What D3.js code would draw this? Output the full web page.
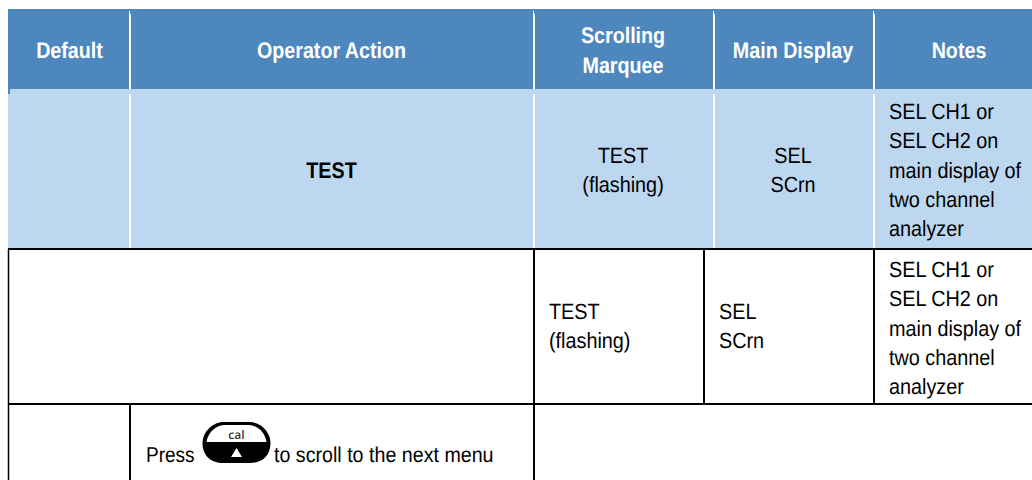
<!DOCTYPE html>
<html><head><meta charset="utf-8">
<script src="https://cdnjs.cloudflare.com/ajax/libs/d3/7.8.5/d3.min.js"></script>
<style>html,body{margin:0;padding:0;background:#fff}svg{display:block}text{font-family:"Liberation Sans",Arial,sans-serif;text-rendering:geometricPrecision}</style>
</head><body><svg id="c" width="1032" height="480"></svg>
<script>
const headers = [["Default"],["Operator Action"],["Scrolling","Marquee"],["Main Display"],["Notes"]];
const marquee = ["TEST","(flashing)"];
const mainDisplay = ["SEL","SCrn"];
const notes = ["SEL CH1 or","SEL CH2 on","main display of","two channel","analyzer"];
const actionLabel = ["TEST"];
const pressBefore = "Press";
const pressAfter = "to scroll to the next menu";
const keyLabel = "cal";

const W=1032,H=480,LH=29.3;
const colEdges=[8,130,534,714,874,1032];
const colCenters=[69.5,331.5,623,793,959];
const y={top:9,head:89,gap:94,r1:249,r2:404};
const svg=d3.select("#c");
function rect(x0,y0,x1,y1,f){svg.append("rect").attr("x",x0).attr("y",y0).attr("width",x1-x0).attr("height",y1-y0).attr("fill",f);}
function line(x0,y0,x1,y1,c,w){svg.append("line").attr("x1",x0).attr("y1",y0).attr("x2",x1).attr("y2",y1).attr("stroke",c).attr("stroke-width",w);}
function txt(lines,x,base,anchor,weight,fill,fs,sx){
  fs=fs||(weight==="bold"?22.5:22); sx=sx||(weight==="bold"?0.875:0.9);
  svg.append("g").selectAll("text").data(lines).join("text")
    .attr("transform",(d,i)=>`translate(${x},${base+i*LH}) scale(${sx},1)`)
    .attr("text-anchor",anchor).attr("font-size",fs).attr("font-weight",weight).attr("fill",fill).text(d=>d);
}
rect(8,y.top,W,y.head,"#4d87bd");
rect(8,y.head,W,y.r1,"#bdd7f1");
rect(8,y.head,10,y.gap,"#4d87bd");
colEdges.slice(1,5).forEach(x=>{
  line(x-0.5,11,x-0.5,14,"#fff",1);
  line(x,14,x,y.head,"#fff",2);
  line(x,y.gap,x,y.r1-1,"#fff",2);
});
// black grid
line(8,y.r1,W,y.r1,"#000",2);
line(8,y.r2,W,y.r2,"#000",2);
line(8.5,y.r1,8.5,H,"#000",1.5);
[534,704,874].forEach(x=>line(x,y.r1,x,y.r2,"#000",2));
[130,534].forEach(x=>line(x,y.r2,x,H,"#000",2));
// header
headers.forEach((h,i)=>{
  const base=h.length>1?43.3:58;
  txt(h,colCenters[i],base,"middle","bold","#fff");
});
// row 1
txt(actionLabel,colCenters[1],178,"middle","bold","#000");
txt(marquee,colCenters[2],163,"middle","normal","#000");
txt(mainDisplay,colCenters[3],163,"middle","normal","#000");
txt(notes,889,119,"start","normal","#000");
// row 2
txt(marquee,549,319,"start","normal","#000");
txt(mainDisplay,719,319,"start","normal","#000");
txt(notes,889,277,"start","normal","#000");
// row 3
txt([pressBefore],146,462,"start","normal","#000",21.5,0.885);
txt([pressAfter],274,462,"start","normal","#000",21.5,0.914);
// key icon
const k=svg.append("g");
const cx=236.5,kt=422,km=442,kb=463;
const keyBody=d3.path();
keyBody.moveTo(cx-13,kt);keyBody.lineTo(cx+13,kt);
keyBody.bezierCurveTo(cx+24,kt,cx+34,kt+10,cx+34,km+1);
keyBody.bezierCurveTo(cx+34,kb-6,cx+24,kb,cx+14,kb);
keyBody.lineTo(cx-14,kb);
keyBody.bezierCurveTo(cx-24,kb,cx-34,kb-6,cx-34,km+1);
keyBody.bezierCurveTo(cx-34,kt+10,cx-24,kt,cx-13,kt);keyBody.closePath();
k.append("path").attr("d",keyBody.toString()).attr("fill","#000");
const keyFace=d3.path();
keyFace.moveTo(cx-30,km);
keyFace.bezierCurveTo(cx-28,kt+9,cx-20,kt+3,cx-11,kt+3);
keyFace.lineTo(cx+11,kt+3);
keyFace.bezierCurveTo(cx+20,kt+3,cx+28,kt+9,cx+30,km);keyFace.closePath();
k.append("path").attr("d",keyFace.toString()).attr("fill","#fff");
k.append("path").attr("d",d3.line()([[cx,448],[cx+5.5,457],[cx-5.5,457]])+"Z").attr("fill","#fff");
k.append("text").attr("x",cx).attr("y",439).attr("text-anchor","middle").attr("font-size",12).attr("font-weight",600).attr("fill","#333").style("font-family","'Open Sans'").text(keyLabel);
</script></body></html>
